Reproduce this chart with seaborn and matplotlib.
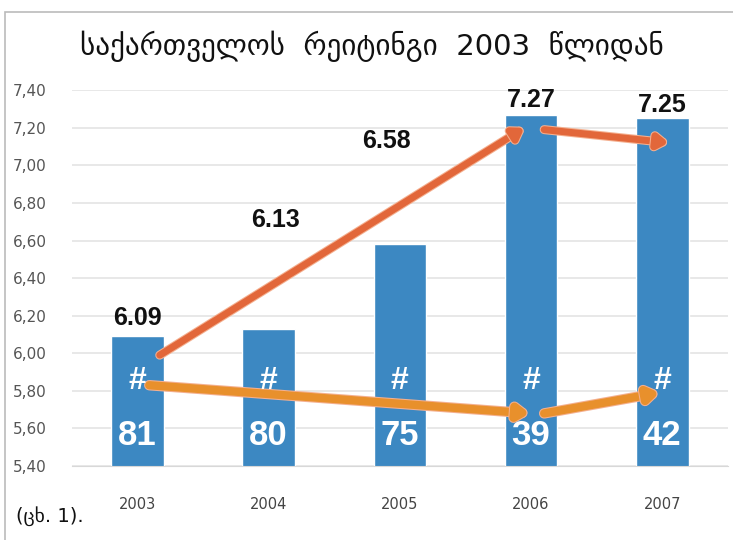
import numpy as np
import pandas as pd
import seaborn as sns
import matplotlib.pyplot as plt
import matplotlib.patheffects as pe
from matplotlib.patches import Rectangle

# dane
years = ["2003", "2004", "2005", "2006", "2007"]
ratings = [6.09, 6.13, 6.58, 7.27, 7.25]
ranks = [81, 80, 75, 39, 42]
# punkty strzałek (pozycja kategorii, wartość)
upper_x = [0.17, 2.95, 3.1, 4.05]
upper_y = [5.99, 7.20, 7.19, 7.12]
lower_x = [0.09, 2.99, 3.1, 3.98]
lower_y = [5.83, 5.68, 5.68, 5.79]
# pozycje etykiet nad słupkami
label_y = [6.19, 6.71, 7.13, 7.35, 7.32]
label_x = [0.0, 1.05, 1.9, 3.0, 4.0]

df = pd.DataFrame({"year": years, "rating": ratings})

sns.set_style("white")
fig = plt.figure(figsize=(7.33, 5.40), dpi=100)
ax = fig.add_axes([0.098, 0.137, 0.895, 0.696])

sns.barplot(data=df, x="year", y="rating", color="#3C88C2", saturation=1,
            width=0.4, ax=ax)
ax.set_ylim(5.4, 7.4)
ax.set_xlim(-0.5, 4.5)
ax.set_yticks(np.arange(5.4, 7.41, 0.2))
ax.set_yticklabels([f"{v:.2f}".replace(".", ",") for v in np.arange(5.4, 7.41, 0.2)],
                   family=["Liberation Sans Narrow", "DejaVu Sans"], fontsize=11, color="#555555")
ax.set_xticks(range(5))
ax.set_xticklabels(years, family=["Liberation Sans Narrow", "DejaVu Sans"], fontsize=10.5, color="#444444")
ax.set_xticks(np.arange(0.5, 4.5, 1), minor=True)
ax.tick_params(axis="x", which="major", length=0, pad=22)
ax.tick_params(axis="x", which="minor", length=5, color="#cccccc")
ax.tick_params(axis="y", length=0, pad=18)
ax.yaxis.grid(True, color="#e4e4e4", lw=1.2)
ax.set_axisbelow(True)
for s in ["top", "right", "left"]:
    ax.spines[s].set_visible(False)
ax.spines["bottom"].set_color("#d8d8d8")
ax.set_xlabel("")
ax.set_ylabel("")

# etykiety wartości
for x, y, v in zip(label_x, label_y, ratings):
    ax.text(x, y, f"{v:.2f}", ha="center", va="center", fontsize=18,
            fontweight="bold", family="Liberation Sans", color="#111111")

# strzałki
def arrow(xs, ys, color, lw):
    for i in range(0, len(xs), 2):
        ax.annotate("", xy=(xs[i + 1], ys[i + 1]), xytext=(xs[i], ys[i]),
                    arrowprops=dict(arrowstyle="-|>,head_length=0.6,head_width=0.4",
                                    color=color, lw=lw, shrinkA=0, shrinkB=0,
                                    path_effects=[pe.Stroke(linewidth=lw + 1.5, foreground="#f4b090"), pe.Normal()]),
                    zorder=5)

arrow(upper_x, upper_y, "#E2673A", 5)
arrow(lower_x, lower_y, "#E8902C", 6)

# numery w rankingu
for i, r in enumerate(ranks):
    ax.text(i, 5.85, "#", ha="center", va="center", fontsize=23, fontweight="bold",
            family="Liberation Sans", color="white", zorder=6)
    ax.text(i, 5.56, str(r), ha="center", va="center", fontsize=25, fontweight="bold",
            family="Liberation Sans", color="white", zorder=6)

fig.text(0.508, 0.915, "საქართველოს  რეიტინგი  2003  წლიდან", ha="center", va="center",
         fontsize=21, family=["DejaVu Sans"], color="#111111")
fig.text(0.022, 0.045, "(ცხ. 1).", ha="left", va="center", fontsize=14,
         family=["DejaVu Sans"], color="#111111")

fig.patches.append(Rectangle((0.007, -0.1), 1.2, 1.077, transform=fig.transFigure,
                             fill=False, edgecolor="#bbbbbb", lw=1.2))

fig.savefig("out.png", dpi=100)
